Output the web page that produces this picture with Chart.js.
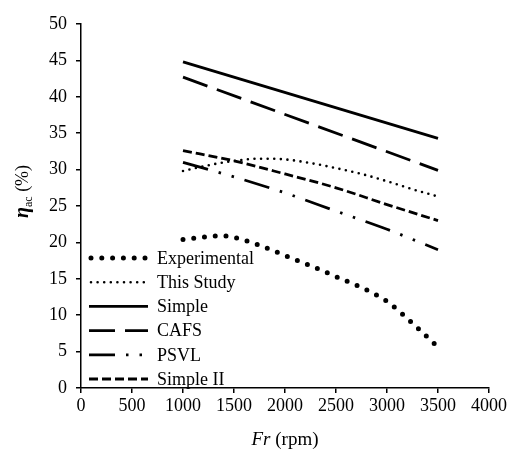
<!DOCTYPE html>
<html>
<head>
<meta charset="utf-8">
<script src="https://cdn.jsdelivr.net/npm/chart.js@4/dist/chart.umd.min.js"></script>
<style>
  body { margin: 0; background: #fff; }
  #wrap { width: 510px; height: 458px; }
</style>
</head>
<body>
<div id="wrap"><canvas id="c" width="510" height="458"></canvas></div>
<script>
// values (Fr in rpm, efficiency in %)
const frExp = [1000, 1250, 1400, 1500, 1750, 2000, 2250, 2500, 2750, 3000, 3250, 3500];
const experimental = [20.4, 20.8, 20.9, 20.7, 19.6, 18.2, 16.8, 15.3, 13.8, 11.9, 8.9, 5.6];

const frStudy = [1000, 1250, 1500, 1750, 2000, 2250, 2500, 2750, 3000, 3250, 3500];
const thisStudy = [29.8, 30.6, 31.2, 31.5, 31.4, 30.9, 30.2, 29.4, 28.4, 27.3, 26.3];

const frEnds = [1000, 3500];
const simple = [44.8, 34.3];
const cafs = [42.7, 29.9];

const frModel = [1000, 1500, 2000, 2500, 3000, 3500];
const psvl = [31.0, 29.0, 26.8, 24.3, 21.8, 19.0];
const simpleII = [32.6, 31.2, 29.4, 27.5, 25.2, 23.0];

const xTicks = [0, 4000, 500];
const yTicks = [0, 50, 5];

const serif = "'Liberation Serif', 'Times New Roman', serif";

function pts(xs, ys) {
  return xs.map((x, i) => ({ x: x, y: ys[i] }));
}

function series(label, xs, ys, width, dash, cap, curve) {
  return {
    label: label,
    data: pts(xs, ys),
    borderColor: "#000",
    backgroundColor: "#000",
    borderWidth: width,
    borderDash: dash,
    borderCapStyle: cap,
    cubicInterpolationMode: curve ? "monotone" : "default",
    tension: 0,
    pointRadius: 0,
    fill: false
  };
}

// legend drawn inside the plot, bottom left
const boxLegend = {
  id: "boxLegend",
  afterDraw(chart) {
    const ctx = chart.ctx;
    ctx.save();
    chart.data.datasets.forEach((ds, i) => {
      let y = 258 + i * 24.2;
      ctx.beginPath();
      ctx.setLineDash(ds.borderDash);
      ctx.lineCap = ds.borderCapStyle;
      ctx.lineWidth = ds.borderWidth;
      ctx.strokeStyle = "#000";
      ctx.moveTo(ds.borderCapStyle === "round" ? 91 : 89, y);
      ctx.lineTo(148, y);
      ctx.stroke();
      ctx.setLineDash([]);
      ctx.fillStyle = "#000";
      ctx.font = "18px " + serif;
      ctx.textBaseline = "middle";
      ctx.textAlign = "left";
      ctx.fillText(ds.label, 157, y + 1);
    });
    ctx.restore();
  }
};

// axis titles with italic / subscript parts
const axisTitles = {
  id: "axisTitles",
  afterDraw(chart) {
    const ctx = chart.ctx;
    ctx.save();
    ctx.fillStyle = "#000";
    ctx.textBaseline = "alphabetic";

    // x title: Fr (rpm)
    ctx.font = "italic 19px " + serif;
    let w1 = ctx.measureText("Fr").width;
    ctx.font = "19px " + serif;
    let w2 = ctx.measureText(" (rpm)").width;
    let cx = (chart.chartArea.left + chart.chartArea.right) / 2;
    let x0 = cx - (w1 + w2) / 2;
    ctx.font = "italic 19px " + serif;
    ctx.fillText("Fr", x0, 445);
    ctx.font = "19px " + serif;
    ctx.fillText(" (rpm)", x0 + w1, 445);

    // y title: eta_ac (%)
    ctx.translate(28, 218);
    ctx.rotate(-Math.PI / 2);
    ctx.font = "bold italic 20px " + serif;
    ctx.fillText("\u03B7", 0, 0);
    let e = ctx.measureText("\u03B7").width;
    ctx.font = "12px " + serif;
    ctx.fillText("ac", e, 4);
    let a = ctx.measureText("ac").width;
    ctx.font = "18px " + serif;
    ctx.fillText(" (%)", e + a, 0);
    ctx.restore();
  }
};

new Chart(document.getElementById("c"), {
  type: "line",
  data: {
    datasets: [
      series("Experimental", frExp, experimental, 5, [0, 10.8], "round", true),
      series("This Study", frStudy, thisStudy, 2.6, [0, 6.6], "round", true),
      series("Simple", frEnds, simple, 2.8, [], "butt", false),
      series("CAFS", frEnds, cafs, 2.8, [26, 10], "butt", false),
      series("PSVL", frModel, psvl, 2.8, [26, 11, 2.5, 11, 2.5, 11], "butt", true),
      series("Simple II", frModel, simpleII, 2.8, [9, 4], "butt", true)
    ]
  },
  options: {
    responsive: false,
    animation: false,
    devicePixelRatio: 1,
    layout: { padding: { top: 24, right: 21, left: 0, bottom: 0 } },
    plugins: {
      legend: { display: false },
      tooltip: { enabled: false }
    },
    scales: {
      x: {
        type: "linear",
        min: xTicks[0],
        max: xTicks[1],
        ticks: {
          stepSize: xTicks[2],
          color: "#000",
          padding: 2,
          maxRotation: 0,
          font: { family: serif, size: 18 },
          callback: v => String(v)
        },
        grid: { drawOnChartArea: false, drawTicks: true, tickLength: 5, color: "#000", lineWidth: 1.5 },
        border: { display: true, color: "#000", width: 1.5 },
        afterFit(s) { s.height = 70; }
      },
      y: {
        min: yTicks[0],
        max: yTicks[1],
        ticks: {
          stepSize: yTicks[2],
          color: "#000",
          padding: 9,
          font: { family: serif, size: 18 },
          callback: v => String(v)
        },
        grid: { drawOnChartArea: false, drawTicks: true, tickLength: 5, color: "#000", lineWidth: 1.5 },
        border: { display: true, color: "#000", width: 1.5 },
        afterFit(s) { s.width = 81; }
      }
    }
  },
  plugins: [boxLegend, axisTitles]
});
</script>
</body>
</html>
